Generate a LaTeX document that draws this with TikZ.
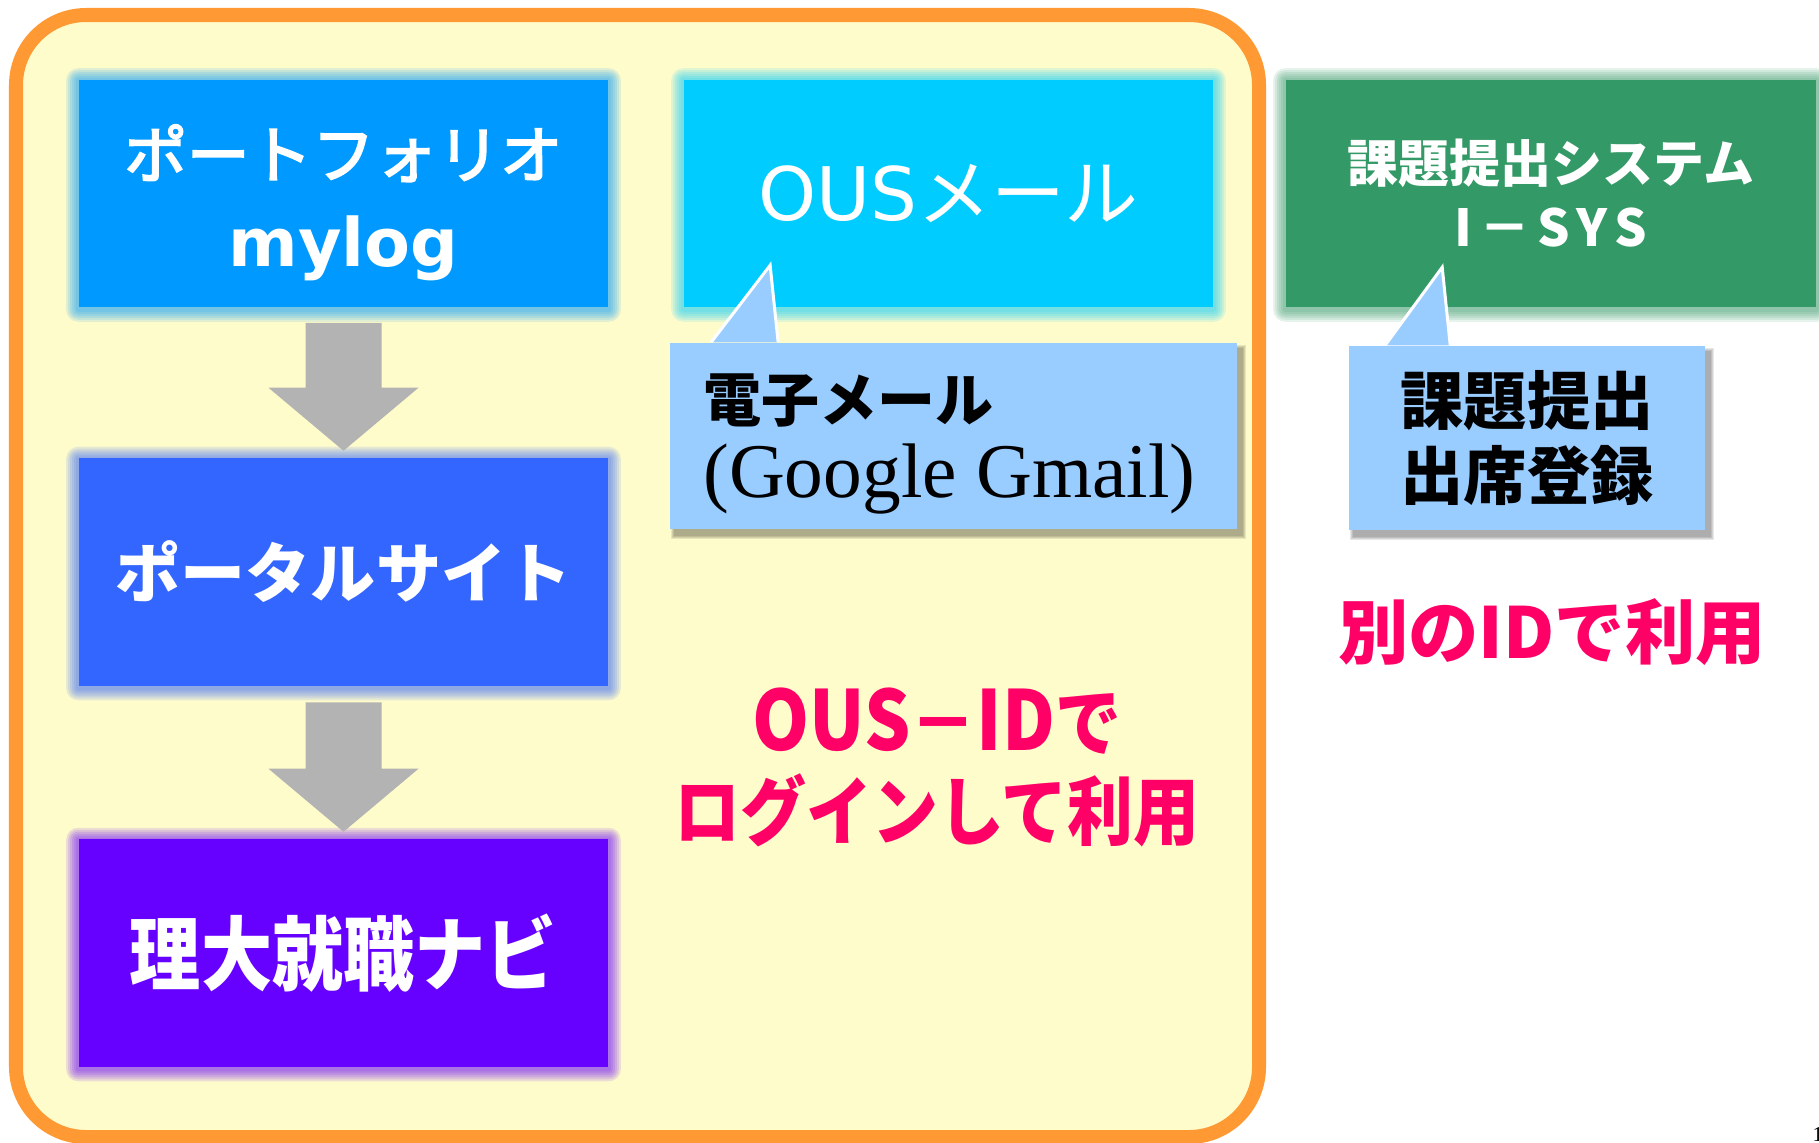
\documentclass[tikz,border=0pt]{standalone}
\usepackage{fontspec}
\setmainfont{Liberation Serif}
\newfontfamily\jp{Noto Sans CJK JP}
\newfontfamily\jpm[FakeBold=3]{Noto Sans CJK JP}
\newfontfamily\jpc[FakeStretch=0.88]{Noto Sans CJK JP}
\newfontfamily\dv{DejaVu Sans}
\usetikzlibrary{calc}
\pgfdeclarelayer{bglayer}
\pgfdeclarelayer{glowlayer}
\pgfsetlayers{bglayer,glowlayer,main}

\definecolor{frameorange}{HTML}{FF9933}
\definecolor{frameyellow}{HTML}{FFFCCC}
\definecolor{cportfolio}{HTML}{0099FF}
\definecolor{cportal}{HTML}{3366FF}
\definecolor{cnavi}{HTML}{6600FF}
\definecolor{cmail}{HTML}{00CCFF}
\definecolor{cisys}{HTML}{339966}
\definecolor{calloutblue}{HTML}{99CCFF}
\definecolor{arrowgray}{HTML}{B3B3B3}
\definecolor{pinkred}{HTML}{FF0066}

\tikzset{
  sysbox/.style={rectangle, inner sep=0pt, minimum width=5.29cm, minimum height=2.27cm, text=white, align=center},
  calloutbox/.style={rectangle, fill=calloutblue, inner sep=0pt},
  pinktext/.style={text=pinkred, align=center, inner sep=0pt},
  ptredge/.style={draw=white, line width=0.03cm},
}

\newcommand\glowof[2]{%
  \begin{pgfonlayer}{glowlayer}
  \foreach \k in {1,...,6}{%
    \fill[#2, opacity=0.12, rounded corners={0.02cm*\k}]
      ($(#1.south west)+(-2*\k,2*\k+2)$) rectangle ($(#1.north east)+(2*\k,-2*\k+1)$);
  }
  \end{pgfonlayer}}

\newcommand\shadowof[1]{%
  \begin{pgfonlayer}{glowlayer}
  \foreach \k in {0,...,3}{%
    \fill[black, opacity=0.09]
      ($(#1.south west)+(5-\k,6+\k)$) rectangle ($(#1.north east)+(5+\k,6-\k)$);
  }
  \end{pgfonlayer}}

\newcommand\blockarrowdown[3]{%
  \fill[arrowgray] ($(#1.south)+(-38,#3)$) -- ($(#1.south)+(38,#3)$)
    -- ($(#2.north)+(38,-70)$) -- ($(#2.north)+(75,-70)$)
    -- ($(#2.north)+(0,-7)$)
    -- ($(#2.north)+(-75,-70)$) -- ($(#2.north)+(-38,-70)$) -- cycle;}

\begin{document}
\begin{tikzpicture}[x=0.01cm, y=-0.01cm]
\useasboundingbox (0,0) rectangle (1819,1142);

\begin{pgfonlayer}{bglayer}
\fill[white] (0,0) rectangle (1819,1142);
\draw[draw=frameorange, fill=frameyellow, line width=0.14cm, rounded corners=0.7cm] (16,15) rectangle (1259,1137);
\end{pgfonlayer}

% left column
\node[sysbox, fill=cportfolio, font={\jpm\fontsize{17.8pt}{25.3pt}\selectfont}] (portfolio) at (343.5,193.5)
  {\rule{0pt}{20.5pt}ポートフォリオ\\{\dv\bfseries\fontsize{19pt}{25.3pt}\selectfont mylog}};
\node[sysbox, fill=cportal, font={\jp\bfseries\fontsize{18.5pt}{22pt}\selectfont}] (portal) at (343.5,572) {ポータルサイト};
\node[sysbox, fill=cnavi, font={\jpc\bfseries\fontsize{23pt}{26pt}\selectfont}] (navi) at (343.5,953) {理大就職ナビ};
\glowof{portfolio}{cportfolio}
\glowof{portal}{cportal}
\glowof{navi}{cnavi}
\blockarrowdown{portfolio}{portal}{15}
\blockarrowdown{portal}{navi}{16}

% middle column
\node[sysbox, fill=cmail, font={\jp\fontsize{21pt}{24pt}\selectfont}] (mail) at (948.5,193.5) {{\dv OUS}メール};
\glowof{mail}{cmail}
\node[calloutbox, minimum width=5.67cm, minimum height=1.86cm, text width=5.0cm, align=left,
      font={\fontsize{16.5pt}{21.7pt}\selectfont}] (mailnote) at (953.5,436)
  {{\jp\bfseries\rule{0pt}{18pt}電子メール}\\{\fontsize{22pt}{21.7pt}\selectfont (Google Gmail)}};
\shadowof{mailnote}
\coordinate (p1l) at ($(mailnote.north west)+(42,0)$);
\coordinate (p1r) at ($(mailnote.north west)+(109,0)$);
\coordinate (p1t) at ($(mailnote.north west)+(101,-77)$);
\fill[calloutblue] (p1l) -- (p1t) -- (p1r) -- cycle;
\draw[ptredge] (p1l) -- (p1t) -- (p1r);

\node[pinktext, font={\jpc\bfseries\fontsize{21.3pt}{25.3pt}\selectfont}] (ousid) at (937,767.5)
  {{\fontsize{23.5pt}{25.3pt}\selectfont OUS}－{\fontsize{23.5pt}{25.3pt}\selectfont ID}で\\ログインして利用};

% right column
\node[sysbox, fill=cisys, minimum width=5.30cm, font={\jp\bfseries\fontsize{14.5pt}{18.2pt}\selectfont}] (isys) at (1551,193.5)
  {課題提出システム\\I\hspace{2pt}－\hspace{2pt}S\hspace{2pt}Y\hspace{2pt}S};
\glowof{isys}{cisys}
\node[calloutbox, minimum width=3.56cm, minimum height=1.84cm, align=center,
      font={\jp\bfseries\fontsize{18pt}{21.6pt}\selectfont}] (kadainote) at (1527,438) {課題提出\\出席登録};
\shadowof{kadainote}
\coordinate (p2l) at ($(kadainote.north west)+(37,0)$);
\coordinate (p2r) at ($(kadainote.north west)+(102,0)$);
\coordinate (p2t) at ($(kadainote.north west)+(94,-78)$);
\fill[calloutblue] (p2l) -- (p2t) -- (p2r) -- cycle;
\draw[ptredge] (p2l) -- (p2t) -- (p2r);

\node[pinktext, font={\jp\bfseries\fontsize{20pt}{24pt}\selectfont}] (otherid) at (1552,632) {別のIDで利用};

\node[anchor=north west, inner sep=0pt, font={\fontsize{6pt}{7pt}\selectfont}] (pagenum) at (1812,1127) {1};
\end{tikzpicture}
\end{document}
